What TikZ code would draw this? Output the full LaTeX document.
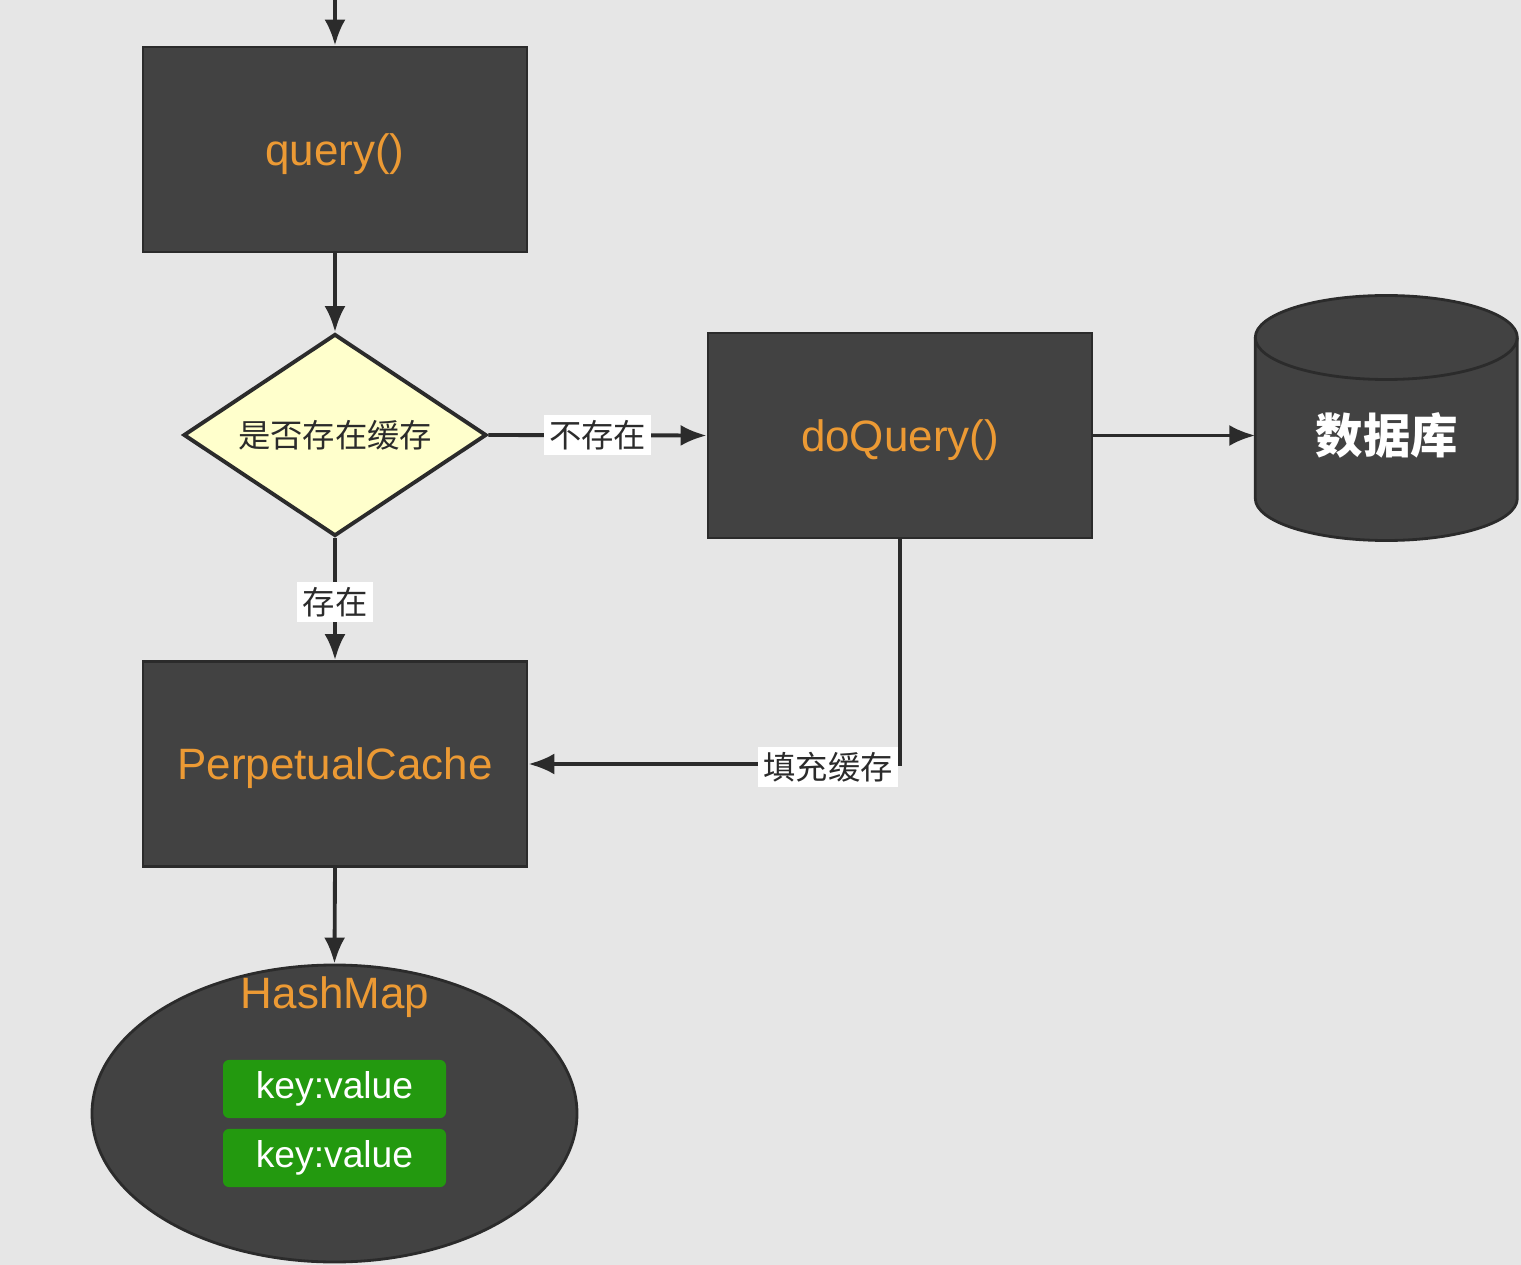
\documentclass[tikz,border=0pt]{standalone}
\usepackage{fontspec}
\setmainfont{Liberation Sans}
\newfontfamily\cjk{Noto Sans CJK SC}
\usetikzlibrary{shapes.geometric,arrows.meta}
\definecolor{bg}{HTML}{E6E6E6}
\definecolor{boxfill}{HTML}{424242}
\definecolor{edge}{HTML}{2B2B2B}
\definecolor{method}{HTML}{EC9A34}
\definecolor{cond}{HTML}{FFFFCC}
\definecolor{kv}{HTML}{23990F}
\tikzset{
    box/.style={draw=edge,fill=boxfill,line width=0.8pt,minimum width=3.84cm,minimum height=2.05cm,
        text depth=0pt,text=method,font=\fontsize{12.5}{15}\selectfont},
    flow/.style={draw=edge,line width=1.1pt,-{Latex[length=2.6mm,width=2.1mm]}},
    tag/.style={fill=white,inner sep=1.5pt,text=edge,font=\cjk\fontsize{9.2}{11}\selectfont},
    kvbox/.style={fill=kv,rounded corners=0.6mm,minimum width=2.23cm,minimum height=0.52cm,
        text=white,font=\fontsize{10.6}{12}\selectfont}
}
\begin{document}
\begin{tikzpicture}
    \fill[bg] (0,0) rectangle (15.21,-12.65);
    \useasboundingbox (0,0) rectangle (15.21,-12.65);

    \coordinate (start) at (3.35,0);
    \node[box] (query) at (3.35,-1.495) {query()};
    \node[diamond,aspect=1.5,draw=edge,fill=cond,line width=1.1pt,inner sep=0pt,minimum width=3.03cm,minimum height=2.02cm,
        font=\cjk\fontsize{9.2}{11}\selectfont,text=edge] (hit) at (3.35,-4.35) {是否存在缓存};
    \node[box] (doquery) at (9.0,-4.355) {doQuery()};
    \node[box] (cache) at (3.35,-7.64) {PerpetualCache};

    % database cylinder
    \node[minimum width=2.62cm,minimum height=2.45cm,inner sep=0pt] (db) at (13.87,-4.175) {};
    \filldraw[draw=edge,fill=boxfill,line width=0.8pt] (db.west) ++(0,0.8) -- ++(0,-1.61)
        arc (180:360:1.31 and 0.42) -- ++(0,1.61) arc (0:180:1.31 and 0.42) -- cycle;
    \draw[edge,line width=0.8pt] (db.west) ++(0,0.8) arc (180:360:1.31 and 0.42);
    \node[text=white,font=\cjk\bfseries\fontsize{13.5}{16}\selectfont] at (13.87,-4.35) {数据库};

    % hashmap
    \node[ellipse,draw=edge,fill=boxfill,line width=0.8pt,minimum width=4.85cm,minimum height=2.97cm] (map) at (3.345,-11.135) {};
    \node[text=method,font=\fontsize{12.5}{15}\selectfont] at (3.35,-9.97) {HashMap};
    \node[kvbox] (kv1) at (3.345,-10.89) {key:value};
    \node[kvbox] (kv2) at (3.345,-11.58) {key:value};

    \draw[flow] (start) -- (query);
    \draw[flow] (query) -- (hit);
    \draw[flow] (hit.east) -- node[tag] {不存在} (doquery.west);
    \draw[flow] (doquery.east) -- (doquery.east -| db.west);
    \draw[flow] (hit.south) -- node[tag,yshift=-0.03cm] {存在} (cache.north);
    \draw[flow] (doquery.south) |- node[tag,anchor=east,yshift=-0.03cm] {填充缓存} (cache.east);
    \draw[flow] (cache.south) -- (map.north);
\end{tikzpicture}
\end{document}
